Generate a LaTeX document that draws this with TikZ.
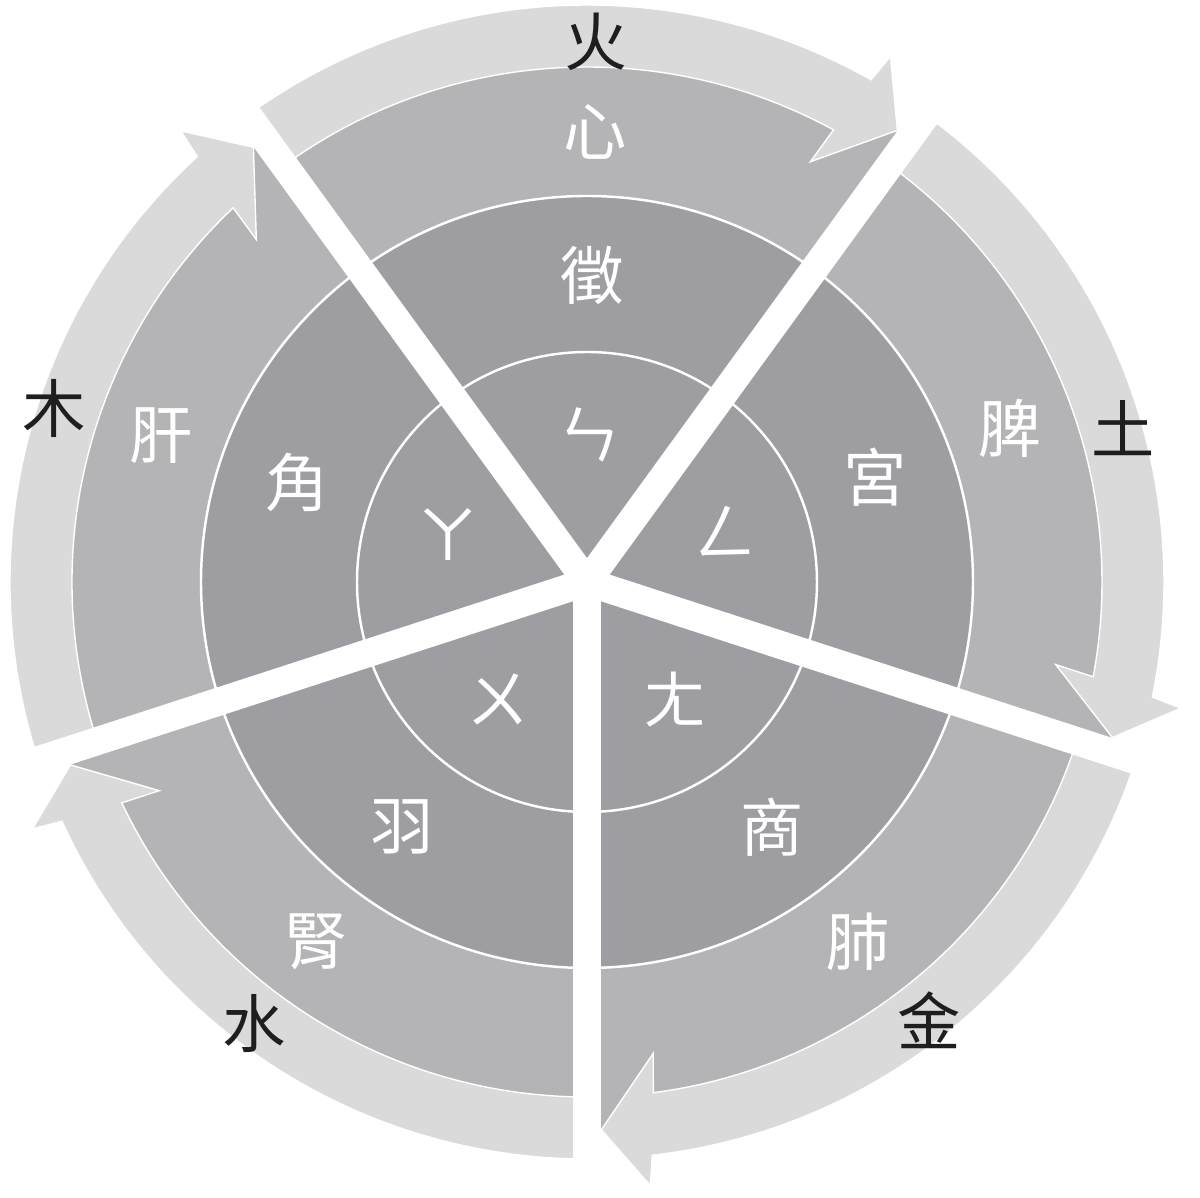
\documentclass[tikz,border=0pt]{standalone}
\usepackage{fontspec}
\newfontfamily\cjk{Noto Sans CJK TC}
\definecolor{arrowgray}{HTML}{DADADB}
\definecolor{organgray}{HTML}{B4B3B6}
\definecolor{tonegray}{HTML}{9E9DA1}
\definecolor{inkgray}{HTML}{1E1E1E}
\begin{document}
\begin{tikzpicture}[x=0.01cm,y=0.01cm,
  wtext/.style={text=white,font=\cjk\fontsize{18pt}{20pt}\selectfont},
  btext/.style={text=inkgray,font=\cjk\fontsize{18pt}{20pt}\selectfont},
  ring/.style={draw=white,line width=0.7pt},
  flow/.style={fill=arrowgray,draw=white,line width=0.4pt},
  gap/.style={draw=white,line width=0.28cm}]
\tikzstyle{every node}+=[inner sep=0pt]
\useasboundingbox (-587,-616) rectangle (613,582);

\fill[organgray] (0,0) circle (548);
\fill[tonegray] (0,0) circle (386);
\draw[ring] (0,0) circle (386) (0,0) circle (230);

\foreach \e in {54,-18,-90,-162,-234}
  \path[flow] (\e+72:577) arc[start angle=\e+72,end angle=\e+6.5,radius=577]
    -- (\e+6:607) -- (\e+1.5:548) -- (\e+8:476) -- (\e+7.4:515)
    arc[start angle=\e+7.4,end angle=\e+72,radius=515] -- cycle;

\foreach \e in {54,-18,-90,-162,-234}
  \draw[gap] (0,0) -- (\e:650);

\foreach \m/\t/\r/\el/\org/\ton/\bp/\n in {89/89/540/火/心/徵/ㄣ/huo,20/16/558/土/脾/宮/ㄥ/tu,
    -53/-52/556/金/肺/商/ㄤ/jin,-127/-127/553/水/腎/羽/ㄨ/shui,161/162/560/木/肝/角/ㄚ/mu}{
  \node[btext] (\n) at (\t:\r) {\el};
  \node[wtext] (\n-organ) at (\m:450) {\org};
  \node[wtext] (\n-tone) at (\m:307) {\ton};
  \node[wtext] (\n-sound) at (\m:147) {\bp};
}
\end{tikzpicture}
\end{document}
